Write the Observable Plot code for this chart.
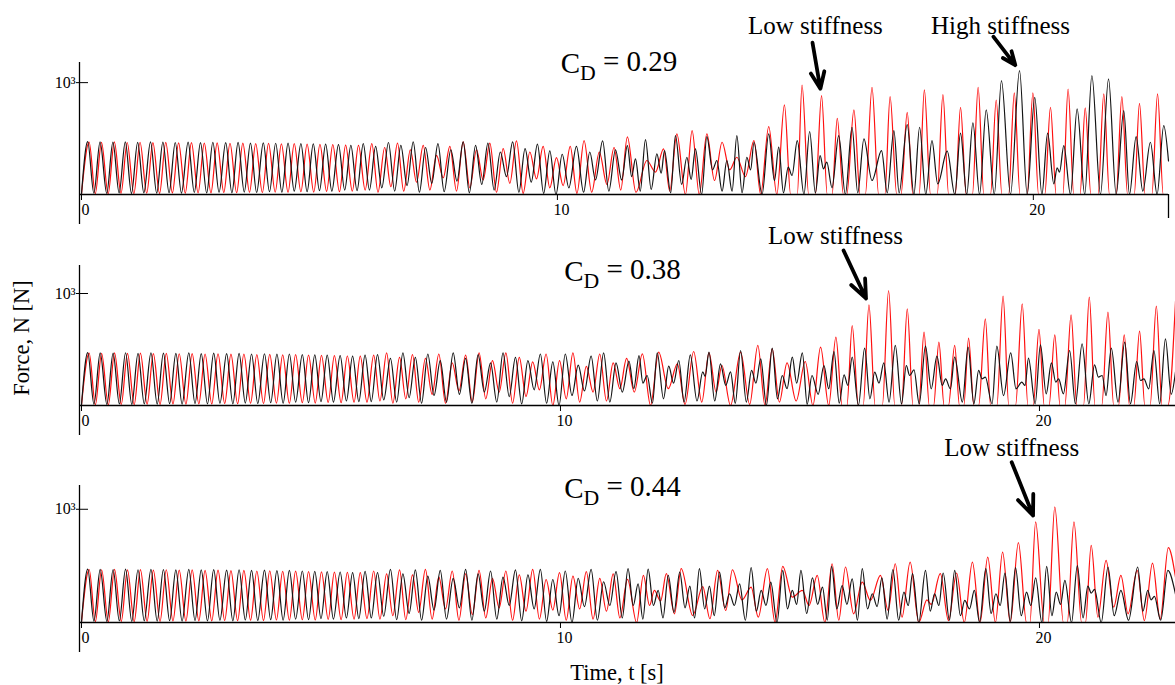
<!DOCTYPE html>
<html><head><meta charset="utf-8">
<script src="https://cdn.jsdelivr.net/npm/d3@7"></script>
<script src="https://cdn.jsdelivr.net/npm/@observablehq/plot@0.6"></script>
<style>
body{margin:0;background:#fff;}
#root{position:relative;width:1175px;height:685px;overflow:hidden;font-family:"Liberation Serif","Times New Roman",serif;color:#000;}
.panel{position:absolute;left:0;}
#ylab{position:absolute;left:22px;top:338px;transform:translate(-50%,-50%) rotate(-90deg);font-size:22.5px;white-space:nowrap;}
#xlab{position:absolute;left:617px;top:673px;transform:translate(-50%,-50%);font-size:22.5px;white-space:nowrap;}
</style></head>
<body><div id="root"><div id="ylab">Force, N [N]</div><div id="xlab">Time, t [s]</div></div>
<script>
// ---------- data (time t [s], force v [N]; local maxima/minima) ----------
const tickX = [0, 10, 20];
const tickY = [1000];
const tEnd = 22.84;
const cdValues = ["0.29", "0.38", "0.44"];

// first ~5.8 s look identical in all three panels
const blackEarly = [0.00,5, 0.13,472, 0.26,12, 0.39,470, 0.53,10, 0.66,468, 0.79,14, 0.92,471, 1.05,10, 1.18,466, 1.31,15, 1.45,470, 1.58,12, 1.71,468, 1.84,16, 1.97,465, 2.10,12, 2.24,469, 2.37,18, 2.50,464, 2.63,14, 2.76,467, 2.89,20, 3.03,463, 3.16,15, 3.29,466, 3.42,22, 3.55,460, 3.68,18, 3.82,462, 3.95,25, 4.08,458, 4.21,20, 4.34,460, 4.47,30, 4.61,455, 4.74,25, 4.87,452, 5.00,35, 5.13,450, 5.26,30, 5.40,446, 5.53,40, 5.66,440, 5.79,35];
const redEarly = [0.00,5, 0.16,468, 0.29,8, 0.42,466, 0.56,6, 0.69,470, 0.83,10, 0.96,465, 1.10,8, 1.23,467, 1.37,12, 1.50,463, 1.64,10, 1.77,466, 1.91,14, 2.04,462, 2.18,12, 2.31,464, 2.45,15, 2.58,460, 2.72,14, 2.85,462, 2.99,18, 3.12,458, 3.26,16, 3.39,460, 3.53,20, 3.66,455, 3.80,18, 3.93,457, 4.07,22, 4.20,452, 4.34,20, 4.47,454, 4.61,25, 4.74,450, 4.88,22, 5.01,448, 5.15,28, 5.28,445, 5.42,25, 5.55,442, 5.69,30];

// C_D = 0.29
const black029 = [5.92,455, 6.05,40, 6.18,430, 6.31,60, 6.45,465, 6.58,30, 6.71,440, 6.84,80, 6.97,470, 7.10,20, 7.23,420, 7.36,100, 7.49,455, 7.62,25, 7.76,400, 7.89,120, 8.02,470, 8.15,15, 8.28,440, 8.41,90, 8.54,460, 8.67,40, 8.80,380, 8.93,160, 9.06,470, 9.19,20, 9.32,410, 9.45,110, 9.58,450, 9.71,10, 9.84,390, 9.97,0, 10.10,360, 10.24,60, 10.40,430, 10.55,20, 10.68,380, 10.80,130, 10.95,480, 11.08,30, 11.22,400, 11.35,130,
 11.47,437, 11.56,160, 11.64,318, 11.74,30, 11.85,491, 11.97,45, 12.09,363, 12.18,190, 12.25,393, 12.38,15, 12.48,527, 12.61,90, 12.72,333, 12.81,135, 12.90,408, 13.03,0, 13.14,518, 13.26,220, 13.35,304, 13.46,30, 13.56,304, 13.67,30, 13.77,527, 13.88,15, 13.98,333, 14.06,220, 14.13,467, 14.30,0, 14.44,542, 14.56,125, 14.65,423, 14.75,15, 14.85,244, 14.93,170, 15.04,482, 15.18,0, 15.30,563, 15.42,15, 15.52,348, 15.59,229, 15.66,289, 15.77,60, 15.91,527, 16.05,0, 16.19,601, 16.31,15, 16.44,497, 16.61,125, 16.81,393, 16.93,15, 17.07,571, 17.18,15,
 17.35,625, 17.49,0, 17.61,601, 17.74,0, 17.87,482, 17.99,95, 18.19,387, 18.35,0, 18.47,548, 18.60,0, 18.73,640, 18.87,0, 19.01,756, 19.18,0, 19.33,1018, 19.52,0, 19.71,1107, 19.87,0, 20.03,869, 20.18,0, 20.30,548, 20.43,95, 20.50,238, 20.55,200, 20.64,437, 20.78,0, 20.92,765, 21.08,0, 21.23,1062, 21.41,0, 21.58,1033, 21.74,0, 21.90,750, 22.02,0, 22.16,518, 22.30,30, 22.46,467, 22.60,0, 22.74,616, 22.84,300];
const red029 = [5.82,440, 5.96,40, 6.10,455, 6.23,20, 6.37,420, 6.50,70, 6.64,460, 6.77,30, 6.91,400, 7.04,110, 7.18,440, 7.32,40, 7.46,350, 7.60,150, 7.74,430, 7.88,30, 8.02,470, 8.16,60, 8.30,400, 8.44,130, 8.58,460, 8.72,20, 8.86,410, 9.00,100, 9.14,480, 9.28,10, 9.42,380, 9.56,140, 9.70,430, 9.84,60, 9.98,330, 10.12,80, 10.27,430, 10.41,10, 10.56,482, 10.72,20, 10.88,380, 11.04,90, 11.19,420, 11.33,40,
 11.47,515, 11.65,20, 11.88,304, 12.06,200, 12.23,408, 12.36,30, 12.51,542, 12.69,0, 12.83,571, 12.98,0, 13.14,542, 13.30,125, 13.46,467, 13.62,220, 13.77,333, 13.95,160, 14.13,482, 14.27,0, 14.44,607, 14.61,0, 14.77,801, 14.90,0, 15.04,0, 15.14,979, 15.28,0, 15.42,0, 15.55,884, 15.67,0, 15.77,0, 15.88,681, 16.01,0, 16.08,0, 16.23,756, 16.36,0, 16.47,0, 16.61,958, 16.75,0, 16.88,0, 16.99,875, 17.13,0, 17.22,0,
 17.35,735, 17.47,0, 17.60,0, 17.71,935, 17.84,0, 17.98,0, 18.10,893, 18.22,0, 18.36,0, 18.47,780, 18.59,0, 18.72,0, 18.84,958, 18.96,0, 19.10,0, 19.22,845, 19.34,0, 19.48,0, 19.60,908, 19.72,0, 19.87,0, 19.99,908, 20.11,0, 20.24,0, 20.36,780, 20.48,0, 20.62,0, 20.73,943, 20.85,0, 20.98,0, 21.09,774, 21.21,0, 21.36,0, 21.48,899, 21.60,0, 21.74,0, 21.86,875, 21.98,0, 22.12,0, 22.23,815, 22.35,0, 22.49,0, 22.61,899, 22.73,0, 22.84,0];

// C_D = 0.38
const black038 = [5.92,450, 6.05,35, 6.18,455, 6.31,50, 6.45,420, 6.58,30, 6.71,470, 6.84,70, 6.97,430, 7.10,20, 7.23,460, 7.36,90, 7.49,400, 7.62,30, 7.76,470, 7.89,100, 8.02,420, 8.15,20, 8.28,455, 8.41,120, 8.54,380, 8.67,30, 8.80,470, 8.93,80, 9.06,430, 9.19,15, 9.32,400, 9.45,140, 9.58,460, 9.71,20, 9.84,390, 9.97,0, 10.10,460, 10.24,90, 10.37,360, 10.50,130, 10.64,440, 10.77,40, 10.90,470, 11.03,30, 11.16,380, 11.29,120,
 11.43,397, 11.53,150, 11.64,446, 11.72,200, 11.81,268, 11.92,20, 12.02,470, 12.15,60, 12.26,351, 12.36,200, 12.47,402, 12.58,30, 12.71,452, 12.85,40, 12.97,300, 13.02,260, 13.10,476, 13.22,40, 13.34,372, 13.45,180, 13.55,300, 13.65,20, 13.76,491, 13.88,30, 13.99,313, 14.08,200, 14.18,417, 14.30,0, 14.42,512, 14.53,60, 14.63,268, 14.73,150, 14.84,432, 14.93,200, 15.05,470, 15.15,10, 15.25,268, 15.38,100, 15.50,357, 15.60,150, 15.71,482, 15.82,20, 15.92,274, 16.00,180, 16.09,432, 16.22,0, 16.35,512, 16.46,60, 16.56,298, 16.65,200, 16.75,381, 16.86,30,
 16.99,536, 17.12,15, 17.22,357, 17.29,268, 17.38,318, 17.49,15, 17.62,530, 17.74,149, 17.86,440, 17.97,179, 18.04,238, 18.14,149, 18.23,432, 18.39,30, 18.51,521, 18.63,15, 18.73,313, 18.80,238, 18.87,253, 19.01,15, 19.11,530, 19.25,89, 19.40,470, 19.51,149, 19.63,208, 19.70,179, 19.77,423, 19.91,15, 20.02,542, 20.14,104, 20.25,381, 20.34,208, 20.40,238, 20.50,104, 20.63,491, 20.75,15, 20.89,551, 21.03,15, 21.15,363, 21.23,253, 21.31,268, 21.39,89, 21.50,512, 21.64,30, 21.78,565, 21.90,15, 22.03,393, 22.11,223, 22.18,238, 22.28,149, 22.39,491, 22.51,15, 22.63,595, 22.75,100, 22.84,300];
const red038 = [5.82,440, 5.96,30, 6.10,450, 6.23,40, 6.37,470, 6.50,20, 6.64,430, 6.77,60, 6.91,455, 7.04,30, 7.18,420, 7.32,100, 7.46,460, 7.60,20, 7.74,380, 7.88,130, 8.02,450, 8.16,30, 8.30,470, 8.44,60, 8.58,400, 8.72,120, 8.86,470, 9.00,20, 9.14,430, 9.28,80, 9.42,390, 9.56,140, 9.70,460, 9.84,0, 9.98,400, 10.12,60, 10.26,470, 10.40,30, 10.54,350, 10.68,120, 10.82,460, 10.96,40, 11.10,380, 11.24,150, 11.38,420, 11.54,120,
 11.71,461, 11.88,0, 12.05,476, 12.25,150, 12.44,372, 12.60,10, 12.78,482, 12.95,30, 13.10,470, 13.25,120, 13.37,357, 13.55,0, 13.76,476, 13.95,10, 14.12,536, 14.27,0, 14.42,506, 14.57,30, 14.73,381, 14.92,40, 15.11,393, 15.27,0, 15.43,521, 15.60,0, 15.75,610, 15.88,0, 15.98,0, 16.09,714, 16.22,0, 16.32,0, 16.44,899, 16.57,0, 16.72,0, 16.85,1027, 16.98,0, 17.12,0,
 17.24,863, 17.36,0, 17.48,0, 17.59,655, 17.70,0, 17.79,0, 17.90,565, 18.01,0, 18.10,0, 18.23,536, 18.33,0, 18.42,0, 18.52,601, 18.63,0, 18.73,0, 18.87,774, 18.98,0, 19.11,0, 19.24,976, 19.36,0, 19.50,0, 19.64,908, 19.76,0, 19.87,0, 19.99,679, 20.10,0, 20.20,0, 20.32,631, 20.43,0, 20.53,0, 20.66,810, 20.78,0, 20.92,0, 21.04,967, 21.16,0, 21.30,0, 21.43,833, 21.55,0, 21.65,0, 21.77,631, 21.88,0, 21.97,0, 22.09,664, 22.20,0, 22.31,0, 22.44,887, 22.56,0, 22.68,0, 22.84,930];

// C_D = 0.44
const black044 = [5.92,452, 6.05,40, 6.18,440, 6.31,55, 6.45,470, 6.58,25, 6.71,430, 6.84,80, 6.97,465, 7.10,20, 7.23,410, 7.36,110, 7.49,460, 7.62,30, 7.76,390, 7.89,130, 8.02,470, 8.15,20, 8.28,430, 8.41,100, 8.54,455, 8.67,30, 8.80,400, 8.93,150, 9.06,465, 9.19,15, 9.32,420, 9.45,120, 9.58,470, 9.71,10, 9.84,380, 9.97,60, 10.10,455, 10.24,0, 10.37,390, 10.50,140, 10.64,470, 10.77,20, 10.90,360, 11.03,150, 11.16,450, 11.29,40,
 11.41,475, 11.52,150, 11.62,342, 11.72,30, 11.83,472, 11.94,150, 12.04,283, 12.14,40, 12.25,416, 12.37,90, 12.49,445, 12.60,130, 12.70,322, 12.80,40, 12.90,475, 13.01,120, 13.11,322, 13.21,60, 13.32,445, 13.43,130, 13.53,254, 13.63,150, 13.74,342, 13.86,20, 13.98,484, 14.09,100, 14.19,283, 14.29,150, 14.39,357, 14.52,0, 14.64,460, 14.74,120, 14.84,283, 14.93,160, 15.02,460, 15.14,80, 15.26,395, 15.37,160, 15.47,313, 15.57,20, 15.66,496, 15.77,120, 15.88,327, 15.98,160, 16.09,386, 16.20,20, 16.30,475, 16.41,120, 16.51,254, 16.61,140, 16.71,395, 16.82,30,
 16.94,468, 17.06,20, 17.17,268, 17.26,150, 17.35,431, 17.48,0, 17.62,460, 17.72,100, 17.81,254, 17.90,150, 17.99,437, 18.12,20, 18.23,460, 18.35,60, 18.44,195, 18.54,120, 18.64,283, 18.75,0, 18.88,475, 18.99,80, 19.09,254, 19.18,150, 19.28,437, 19.39,10, 19.50,484, 19.62,60, 19.73,268, 19.82,150, 19.92,395, 20.05,0, 20.15,496, 20.26,60, 20.35,268, 20.44,160, 20.53,372, 20.67,0, 20.79,502, 20.91,40, 21.01,322, 21.08,260, 21.15,292, 21.29,0, 21.43,490, 21.56,60, 21.70,283, 21.86,20, 22.05,490, 22.16,100, 22.26,283, 22.33,200, 22.40,230, 22.53,20, 22.68,460, 22.84,250];
const red044 = [5.82,440, 5.96,35, 6.10,455, 6.23,30, 6.37,430, 6.50,60, 6.64,465, 6.77,25, 6.91,420, 7.04,90, 7.18,470, 7.32,30, 7.46,400, 7.60,120, 7.74,455, 7.88,20, 8.02,430, 8.16,70, 8.30,460, 8.44,40, 8.58,390, 8.72,130, 8.86,455, 9.00,20, 9.14,420, 9.28,100, 9.42,470, 9.56,30, 9.70,380, 9.84,110, 9.98,440, 10.12,20, 10.26,410, 10.40,120, 10.54,450, 10.68,30, 10.82,390, 10.96,100, 11.10,430, 11.24,40, 11.40,380,
 11.59,0, 11.73,416, 11.86,150, 11.96,283, 12.09,190, 12.21,431, 12.38,77, 12.52,475, 12.76,62, 12.97,316, 13.12,33, 13.28,460, 13.45,106, 13.59,466, 13.79,200, 13.98,313, 14.13,47, 14.32,475, 14.48,0, 14.64,496, 14.84,224, 15.05,283, 15.19,150, 15.36,416, 15.52,0, 15.67,519, 15.81,20, 15.95,490, 16.12,77, 16.30,357, 16.47,195, 16.68,416, 16.84,106,
 16.99,519, 17.13,47, 17.30,534, 17.48,0, 17.65,200, 17.74,160, 17.93,431, 18.10,17, 18.27,437, 18.43,0, 18.60,534, 18.76,0, 18.92,578, 19.08,0, 19.23,622, 19.39,0, 19.56,705, 19.73,0, 19.80,0, 19.92,888, 20.10,0, 20.18,0, 20.32,1021, 20.50,0, 20.58,0, 20.72,888, 20.88,0, 20.96,0, 21.08,681, 21.22,47, 21.39,549, 21.55,136, 21.70,417, 21.85,77, 22.04,460, 22.19,17, 22.36,525, 22.52,30, 22.69,661, 22.84,400];

// annotations: label, label time, arrow start (time, force) and the peak it points at
const notes029 = [
  {label: "Low stiffness", t: 15.42, ts: 15.36, vs: 1357, tp: 15.55, vp: 884},
  {label: "High stiffness", t: 19.31, ts: 19.16, vs: 1411, tp: 19.71, vp: 1107}
];
const notes038 = [{label: "Low stiffness", t: 15.74, ts: 15.91, vs: 1384, tp: 16.44, vp: 899}];
const notes044 = [{label: "Low stiffness", t: 19.42, ts: 19.42, vs: 1416, tp: 19.92, vp: 888}];

// ---------- drawing ----------
const pts = a => { const o = []; for (let i = 0; i < a.length; i += 2) o.push({t: a[i], v: a[i + 1]}); return o; };
const sup = {3: "³"};

const panels = [
  {top: 0,   height: 232, mt: 62, mb: 38, mr: 7, yMax: 1180, black: blackEarly.concat(black029), red: redEarly.concat(red029), cd: cdValues[0], notes: notes029, annDy: -46, cdDx: -6, cdDy: -10, endLine: true},
  {top: 218, height: 224, mt: 47, mb: 37, mr: 0, yMax: 1250, black: blackEarly.concat(black038), red: redEarly.concat(red038), cd: cdValues[1], notes: notes038, annDy: -39, cdDx: -6, cdDy: -5, endLine: false},
  {top: 430, height: 230, mt: 55, mb: 38, mr: 0, yMax: 1210, black: blackEarly.concat(black044), red: redEarly.concat(red044), cd: cdValues[2], notes: notes044, annDy: -47, cdDx: -6, cdDy: -8, endLine: false}
];

const root = document.getElementById("root");
for (const p of panels) {
  const plotW = 1175 - 81 - p.mr;
  const plotH = p.height - p.mt - p.mb;
  const marks = [
    Plot.line(pts(p.red), {x: "t", y: "v", stroke: "#ff1010", strokeWidth: 1.2, curve: "monotone-x"}),
    Plot.line(pts(p.black), {x: "t", y: "v", stroke: "#141414", strokeWidth: 1.2, curve: "monotone-x"}),
    Plot.ruleY([0], {insetLeft: -2, stroke: "#000", strokeWidth: 1.3}),
    Plot.ruleX([0], {dx: -2, insetBottom: -30, stroke: "#000", strokeWidth: 1.3}),
    // x ticks below the axis and their labels
    Plot.ruleX(tickX, {insetTop: plotH, insetBottom: -6, stroke: "#000"}),
    Plot.text(tickX, {x: d => d, frameAnchor: "bottom", lineAnchor: "top", dy: 9, dx: 4, text: d => String(d), fontSize: 16}),
    // y tick crossing the axis line, label 10³
    Plot.ruleY(tickY, {insetLeft: -5, insetRight: plotW - 7, stroke: "#000"}),
    Plot.text(tickY, {y: d => d, frameAnchor: "left", textAnchor: "end", dx: -6, text: d => "10" + sup[Math.round(Math.log10(d))], fontSize: 16}),
    Plot.text([p.cd], {frameAnchor: "top", dx: p.cdDx, dy: p.cdDy, text: d => "CD = " + d, fontSize: 29}),
    Plot.text(p.notes, {x: "t", frameAnchor: "top", dy: p.annDy, text: "label", fontSize: 25}),
    Plot.arrow(p.notes, {x1: "ts", y1: "vs", x2: "tp", y2: "vp", insetEnd: 7, stroke: "#000", strokeWidth: 3.8, headLength: 15, headAngle: 45})
  ];
  if (p.endLine) marks.push(Plot.ruleX([tEnd], {insetTop: plotH, insetBottom: -24, stroke: "#000", strokeWidth: 1.3}));
  const svg = Plot.plot({
    width: 1175, height: p.height,
    marginLeft: 81, marginRight: p.mr, marginTop: p.mt, marginBottom: p.mb,
    x: {domain: [0, tEnd], axis: null},
    y: {domain: [0, p.yMax], axis: null},
    style: {fontFamily: "'Liberation Serif', 'Times New Roman', serif", fontSize: "16px", background: "transparent", overflow: "visible", color: "#000"},
    marks
  });
  // subscript D in C_D
  d3.select(svg).selectAll("text").each(function () {
    const s = this.textContent;
    if (s.startsWith("CD = ")) {
      const el = d3.select(this);
      el.text(null);
      el.append("tspan").text("C");
      el.append("tspan").attr("dy", "0.3em").attr("font-size", "0.75em").text("D");
      el.append("tspan").attr("dy", "-0.3em").text(" " + s.slice(3));
    }
  });
  const holder = document.createElement("div");
  holder.className = "panel";
  holder.style.top = p.top + "px";
  holder.appendChild(svg);
  root.appendChild(holder);
}
</script>
</body></html>
